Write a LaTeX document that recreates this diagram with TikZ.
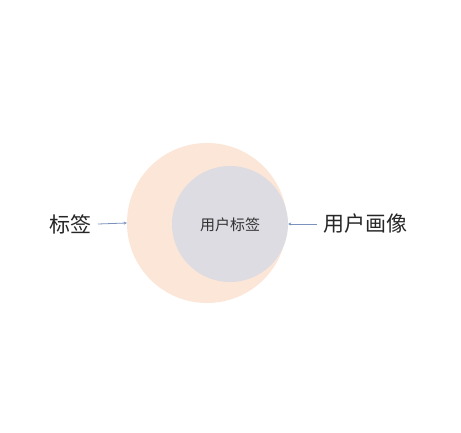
\documentclass[tikz,border=0pt]{standalone}
\usepackage{fontspec}
\newfontfamily\cjk{Noto Sans CJK SC}
\definecolor{peach}{HTML}{FCE6D8}
\definecolor{greyc}{HTML}{DCDCE2}
\definecolor{arrowc}{HTML}{7A92BE}
\tikzset{
  lbl/.style={font=\cjk\fontsize{21}{24}\selectfont, text=black!85, inner sep=0pt},
  inlbl/.style={font=\cjk\fontsize{15}{18}\selectfont, text=black!80, inner sep=0pt},
  conn/.style={draw=arrowc, line width=0.8pt, -{Stealth[length=3pt,width=3pt]}}
}
\usetikzlibrary{arrows.meta}
\begin{document}
\begin{tikzpicture}[x=1pt,y=-1pt]
\useasboundingbox (0,0) rectangle (461,433);
\fill[white] (0,0) rectangle (461,433);
\node[circle, fill=peach, minimum size=160pt, inner sep=0pt] (outer) at (207,223) {};
\node[circle, fill=greyc, minimum size=116pt, inner sep=0pt] (inner) at (230,224) {};
\node[inlbl] (utag) at (230,225) {用户标签};
\node[lbl] (tag) at (70,224) {标签};
\node[lbl] (portrait) at (365,224) {用户画像};
\coordinate (la) at (98,224);
\coordinate (ra) at (317,224);
\draw[conn] (la) -- (outer.west);
\draw[conn] (ra) -- (inner.east);
\end{tikzpicture}
\end{document}
